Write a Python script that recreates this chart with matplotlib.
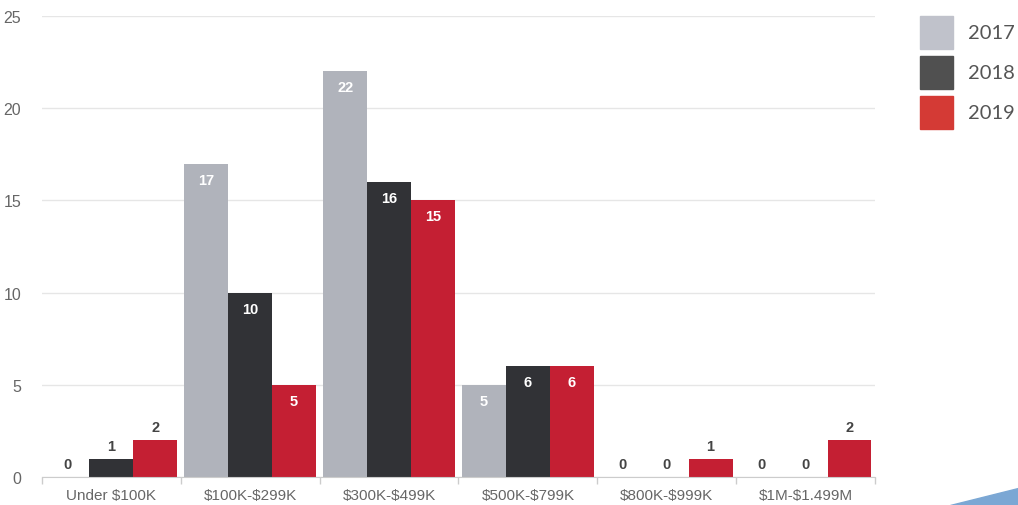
import matplotlib.pyplot as plt
from matplotlib.patches import Rectangle, Polygon
import numpy as np

plt.rcParams['text.parse_math'] = False

categories = ['Under $100K', '$100K-$299K', '$300K-$499K', '$500K-$799K', '$800K-$999K', '$1M-$1.499M']
years = ['2017', '2018', '2019']
values_2017 = [0, 17, 22, 5, 0, 0]
values_2018 = [1, 10, 16, 6, 0, 0]
values_2019 = [2, 5, 15, 6, 1, 2]

bar_colors = ['#b0b3bb', '#313236', '#c41f33']
legend_colors = ['#c0c2cb', '#505050', '#d43a35']

W, H = 1018, 506
fig = plt.figure(figsize=(W / 100, H / 100), dpi=100)
ax = fig.add_axes([42 / W, 28 / H, (875 - 42) / W, (478 - 17) / H])

x = np.arange(len(categories))
width = 0.316
series = [values_2017, values_2018, values_2019]
for i, vals in enumerate(series):
    pos = x + (i - 1) * width
    ax.bar(pos, vals, width, color=bar_colors[i], zorder=3)
    for p, v in zip(pos, vals):
        if v >= 5:
            ax.annotate(str(v), (p, v), xytext=(0, -16), textcoords='offset pixels',
                        ha='center', va='center', color='white', fontweight='bold',
                        fontsize=10.5, family='Liberation Sans', zorder=4)
        else:
            ax.annotate(str(v), (p, v), xytext=(0, 13), textcoords='offset pixels',
                        ha='center', va='center', color='#444444', fontweight='bold',
                        fontsize=10.5, family='Liberation Sans', zorder=4)

ax.set_xlim(-0.5, len(categories) - 0.5)
ax.set_ylim(0, 25)
ax.set_yticks([0, 5, 10, 15, 20, 25])
ax.yaxis.grid(True, color='#e6e6e6', linewidth=1, zorder=0)
ax.set_axisbelow(True)

ax.set_xticks(x)
ax.set_xticklabels(categories, family='Liberation Sans', fontsize=11, color='#666666')
ax.set_xticks(np.arange(len(categories) + 1) - 0.5, minor=True)
ax.tick_params(axis='x', which='major', length=0, pad=8)
ax.tick_params(axis='x', which='minor', length=5, color='#cccccc', width=1)
ax.tick_params(axis='y', length=0, pad=15, labelsize=11.5, labelcolor='#666666')
for lbl in ax.get_yticklabels():
    lbl.set_family('Liberation Sans')

for s in ['top', 'right', 'left']:
    ax.spines[s].set_visible(False)
ax.spines['bottom'].set_color('#cccccc')
ax.spines['bottom'].set_zorder(5)

# legend drawn in pixel coordinates
for i, yr in enumerate(years):
    top = 17 + i * 40
    fig.add_artist(Rectangle((920 / W, (H - top - 33) / H), 33 / W, 33 / H,
                             transform=fig.transFigure, color=legend_colors[i]))
    fig.text(968 / W, (H - top - 16.5) / H, yr, fontsize=14.5, family='Lato',
             color='#555555', va='center', ha='left')

# decorative corner shape
fig.add_artist(Polygon([(950 / W, 0), (1018 / W, 0), (1018 / W, 17 / H)],
                       closed=True, transform=fig.transFigure, color='#7ba7d4'))

fig.savefig('out.png', dpi=100)
